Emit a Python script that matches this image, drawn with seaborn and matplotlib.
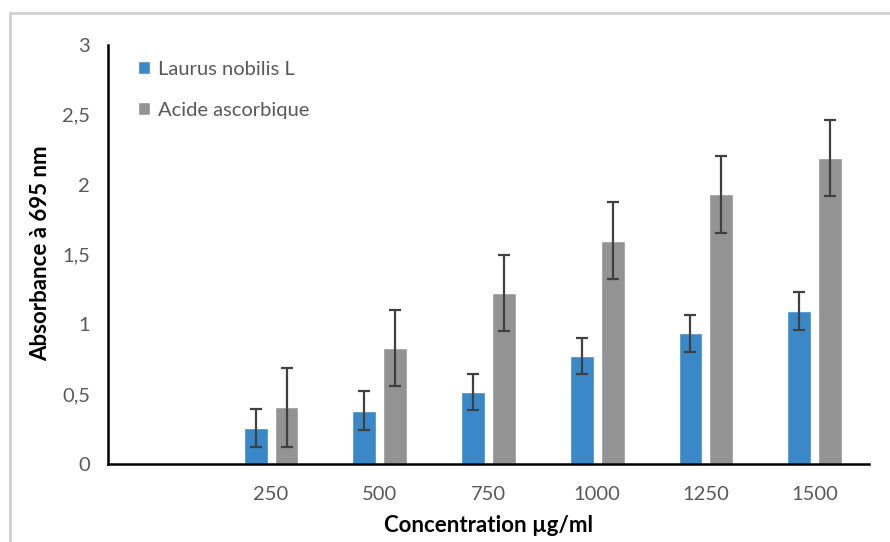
import numpy as np
import pandas as pd
import matplotlib
matplotlib.use("Agg")
import matplotlib.pyplot as plt
import seaborn as sns
from matplotlib.lines import Line2D

# data
concentrations = ["", "250", "500", "750", "1000", "1250", "1500"]
laurus = [0.26, 0.38, 0.515, 0.775, 0.935, 1.095]
laurus_err = [0.135, 0.14, 0.13, 0.13, 0.135, 0.135]
ascorbique = [0.405, 0.83, 1.225, 1.60, 1.93, 2.19]
ascorbique_err = [0.28, 0.275, 0.275, 0.275, 0.275, 0.27]
series = ["Laurus nobilis L", "Acide ascorbique"]
colors = ["#3A88C8", "#939393"]
y_ticks = [0, 0.5, 1, 1.5, 2, 2.5, 3]

sns.set_theme(style="white")
plt.rcParams["font.family"] = ["Lato", "DejaVu Sans"]

df = pd.DataFrame({
    "conc": concentrations[1:] * 2,
    "val": laurus + ascorbique,
    "err": laurus_err + ascorbique_err,
    "serie": [series[0]] * 6 + [series[1]] * 6,
})

fig = plt.figure(figsize=(8.9, 5.42), dpi=100)
ax = fig.add_axes([108 / 890, 78 / 542, 761 / 890, 419 / 542])

sns.barplot(data=df, x="conc", y="val", hue="serie", order=concentrations,
            hue_order=series, palette=colors, width=0.57, gap=0.23,
            errorbar=None, saturation=1, ax=ax)

# error bars at the bar centres (category found from the bar position)
for cont, s in zip(ax.containers, series):
    sub = df[df.serie == s].set_index("conc")
    xs, ys, es = [], [], []
    for patch in cont.patches:
        xc = patch.get_x() + patch.get_width() / 2
        c = concentrations[int(round(xc))]
        if c not in sub.index:
            continue
        xs.append(xc)
        ys.append(patch.get_height())
        es.append(sub.loc[c, "err"])
    ax.errorbar(xs, ys, yerr=es, fmt="none", ecolor="#404040",
                elinewidth=1.6, capsize=4, capthick=1.6, zorder=3)

ax.set_xlim(-0.5, len(concentrations) - 0.5)
ax.set_ylim(0, 3)
ax.set_yticks(y_ticks)
ax.set_yticklabels([f"{t:g}".replace(".", ",") for t in y_ticks])
ax.set_xticks(np.arange(-0.5, len(concentrations), 1))
ax.set_xticklabels([])
ax.set_xticks(np.arange(len(concentrations)), minor=True)
ax.set_xticklabels(concentrations, minor=True)
ax.tick_params(axis="x", which="major", direction="inout", length=10,
               width=1.5, color="black")
ax.tick_params(axis="x", which="minor", length=0, pad=16,
               labelsize=14.5, labelcolor="#595959")
ax.tick_params(axis="y", direction="inout", length=10, width=1.5,
               color="black", labelsize=14.5, labelcolor="#595959", pad=8)

for side in ["top", "right"]:
    ax.spines[side].set_visible(False)
for side in ["left", "bottom"]:
    ax.spines[side].set_color("black")
    ax.spines[side].set_linewidth(1.8)

ax.set_xlabel("Concentration µg/ml", fontsize=16, fontweight="bold",
              color="black")
ax.xaxis.set_label_coords(0.5, -0.121)
ax.set_ylabel("Absorbance à 695 nm", fontsize=16, fontweight="bold",
              color="black")
ax.yaxis.set_label_coords(-0.075, 0.504)

leg = ax.legend(loc="upper left", bbox_to_anchor=(0.015, 1.006), frameon=False,
                fontsize=14.5, handlelength=0.6, handleheight=0.6,
                handletextpad=0.4, labelspacing=1.2)
for t in leg.get_texts():
    t.set_color("#595959")

# light border of the chart area (top and left edges visible)
fig.add_artist(Line2D([10 / 890, 10 / 890], [0, 1 - 13 / 542],
                      transform=fig.transFigure, color="#d0d0d0", lw=2))
fig.add_artist(Line2D([10 / 890, 1], [1 - 13 / 542, 1 - 13 / 542],
                      transform=fig.transFigure, color="#d0d0d0", lw=2))

fig.savefig("out.png", dpi=100)
